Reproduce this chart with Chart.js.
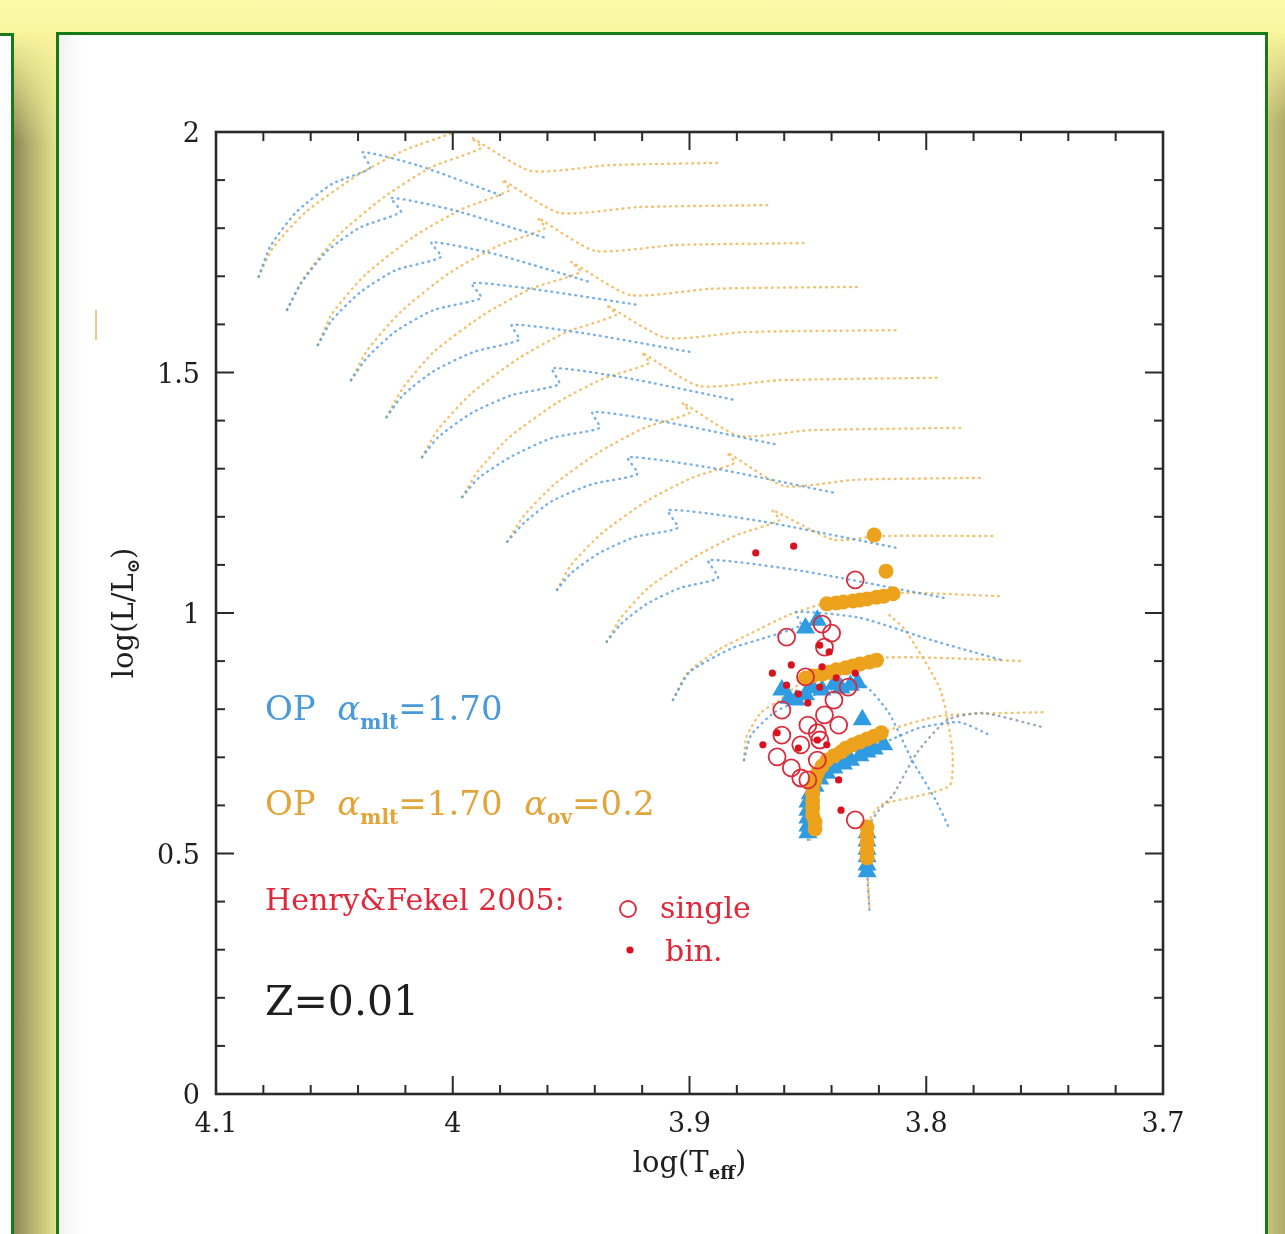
<!DOCTYPE html>
<html>
<head>
<meta charset="utf-8">
<title>HR diagram Z=0.01</title>
<script src="https://cdn.jsdelivr.net/npm/chart.js@4.4.0/dist/chart.umd.min.js"></script>
<style>
  html, body { margin: 0; padding: 0; }
  body {
    width: 1285px; height: 1234px; position: relative; overflow: hidden;
    background: linear-gradient(to bottom, #fbfaa8 0px, #f8f59c 40px, #f1ee94 100%);
  }
  #leftShadow {
    position: absolute; left: 14px; top: 33px; width: 43px; height: 1201px;
    background: linear-gradient(to right, #8a8757 0%, #b4b16e 40%, #e6e390 100%);
  }
  #leftFade {
    position: absolute; left: 14px; top: 33px; width: 43px; height: 110px;
    background: linear-gradient(to bottom, #f8f59c 0%, rgba(248,245,156,0) 100%);
  }
  #rightShadow {
    position: absolute; left: 1265px; top: 33px; width: 20px; height: 1201px;
    background: linear-gradient(to right, #c9c67e 0%, #aeab68 100%);
  }
  #rightFade {
    position: absolute; left: 1265px; top: 33px; width: 20px; height: 90px;
    background: linear-gradient(to bottom, #f8f59c 0%, rgba(248,245,156,0) 100%);
  }
  #leftPanel {
    position: absolute; left: -10px; top: 33px; width: 21px; height: 1220px;
    background: #fff; border-top: 3px solid #177a17; border-right: 3px solid #177a17;
  }
  #mainPanel {
    position: absolute; left: 56px; top: 32px; width: 1206px; height: 1230px;
    background: #fff; border: 3px solid #177a17;
    box-shadow: inset 22px 0 22px -14px rgba(0,0,0,0.07);
  }
  #hrd { position: absolute; left: 0; top: 0; }
</style>
</head>
<body>
<div id="leftShadow"></div>
<div id="leftFade"></div>
<div id="rightShadow"></div>
<div id="rightFade"></div>
<div id="leftPanel"></div>
<div id="mainPanel"></div>
<canvas id="hrd" width="1285" height="1234"></canvas>
<script>
// axis ticks
const xMajorTicks = [4.1, 4.0, 3.9, 3.8, 3.7];
const xTickLabels = ['4.1', '4', '3.9', '3.8', '3.7'];
const xMinorTicks = [4.08, 4.06, 4.04, 4.02, 3.98, 3.96, 3.94, 3.92, 3.88, 3.86, 3.84, 3.82, 3.78, 3.76, 3.74, 3.72];
const yMajorTicks = [0, 0.5, 1, 1.5, 2];
const yTickLabels = ['0', '0.5', '1', '1.5', '2'];
const yMinorTicks = [0.1, 0.2, 0.3, 0.4, 0.6, 0.7, 0.8, 0.9, 1.1, 1.2, 1.3, 1.4, 1.6, 1.7, 1.8, 1.9];

// tracks with overshoot (alpha_ov = 0.2), [logTeff, logL]
const ovTrack1 = [[4.082,1.699],[4.076,1.759],[4.062,1.834],[4.040,1.911],[4.020,1.963],[3.999,2.000],[3.980,2.042]];
const ovTrack2 = [[4.070,1.630],[4.063,1.696],[4.049,1.782],[4.029,1.865],[4.009,1.927],[3.988,1.967],[3.992,1.988],[3.967,1.919],[3.934,1.931],[3.887,1.936]];
const ovTrack3 = [[4.057,1.557],[4.051,1.622],[4.037,1.703],[4.016,1.784],[3.996,1.840],[3.976,1.879],[3.979,1.900],[3.955,1.832],[3.921,1.844],[3.866,1.848]];
const ovTrack4 = [[4.043,1.484],[4.036,1.547],[4.022,1.626],[4.002,1.705],[3.981,1.763],[3.961,1.800],[3.964,1.821],[3.940,1.753],[3.906,1.765],[3.851,1.769]];
const ovTrack5 = [[4.028,1.407],[4.021,1.468],[4.008,1.543],[3.987,1.620],[3.967,1.674],[3.946,1.709],[3.950,1.730],[3.925,1.661],[3.891,1.674],[3.829,1.678]];
const ovTrack6 = [[4.013,1.324],[4.006,1.383],[3.992,1.457],[3.972,1.530],[3.952,1.584],[3.931,1.620],[3.935,1.640],[3.910,1.572],[3.877,1.584],[3.813,1.588]];
const ovTrack7 = [[3.996,1.241],[3.989,1.297],[3.976,1.366],[3.956,1.437],[3.937,1.486],[3.917,1.520],[3.920,1.541],[3.896,1.472],[3.862,1.484],[3.795,1.489]];
const ovTrack8 = [[3.977,1.148],[3.970,1.202],[3.957,1.268],[3.938,1.335],[3.919,1.385],[3.900,1.416],[3.903,1.437],[3.879,1.368],[3.849,1.380],[3.785,1.385]];
const ovTrack9 = [[3.956,1.048],[3.950,1.100],[3.937,1.166],[3.918,1.233],[3.899,1.281],[3.881,1.312],[3.884,1.333],[3.860,1.264],[3.830,1.277],[3.777,1.281]];
const ovTrack10 = [[3.935,0.940],[3.929,0.990],[3.917,1.054],[3.898,1.116],[3.880,1.162],[3.862,1.193],[3.865,1.214],[3.839,1.152],[3.820,1.160],[3.770,1.160]];
const ovTrack11 = [[3.907,0.819],[3.901,0.875],[3.888,0.923],[3.874,0.958],[3.858,0.996],[3.842,1.021],[3.814,1.042],[3.769,1.035]];
const ovTrack12 = [[3.877,0.694],[3.876,0.742],[3.870,0.792],[3.862,0.819],[3.851,0.861],[3.820,0.906],[3.790,0.906],[3.760,0.900]];
const ovTrack13 = [[3.849,0.528],[3.848,0.611],[3.846,0.663],[3.836,0.709],[3.819,0.751],[3.794,0.786],[3.750,0.794]];
const ovTrack14 = [[3.824,0.389],[3.825,0.487],[3.825,0.559],[3.819,0.601],[3.803,0.620],[3.790,0.642],[3.789,0.715],[3.794,0.840],[3.809,0.965],[3.817,1.002]];

// tracks without overshoot (alpha_mlt = 1.70)
const mltTrack1 = [[4.082,1.699],[4.077,1.763],[4.066,1.834],[4.051,1.892],[4.035,1.925],[4.038,1.958],[4.015,1.931],[3.980,1.869]];
const mltTrack2 = [[4.070,1.630],[4.064,1.686],[4.053,1.753],[4.039,1.802],[4.022,1.834],[4.026,1.863],[4.000,1.838],[3.961,1.780]];
const mltTrack3 = [[4.057,1.557],[4.051,1.609],[4.039,1.667],[4.024,1.713],[4.005,1.740],[4.009,1.771],[3.982,1.746],[3.942,1.688]];
const mltTrack4 = [[4.043,1.484],[4.036,1.532],[4.024,1.586],[4.008,1.630],[3.988,1.655],[3.992,1.686],[3.964,1.672],[3.921,1.640]];
const mltTrack5 = [[4.028,1.407],[4.021,1.453],[4.008,1.503],[3.991,1.543],[3.972,1.568],[3.975,1.599],[3.945,1.582],[3.900,1.543]];
const mltTrack6 = [[4.013,1.324],[4.006,1.366],[3.992,1.416],[3.975,1.453],[3.955,1.476],[3.958,1.509],[3.927,1.489],[3.881,1.443]];
const mltTrack7 = [[3.996,1.241],[3.989,1.281],[3.975,1.326],[3.958,1.364],[3.938,1.385],[3.941,1.418],[3.910,1.397],[3.862,1.349]];
const mltTrack8 = [[3.977,1.148],[3.970,1.187],[3.958,1.233],[3.941,1.268],[3.922,1.289],[3.926,1.324],[3.890,1.301],[3.838,1.249]];
const mltTrack9 = [[3.956,1.048],[3.950,1.083],[3.938,1.125],[3.923,1.158],[3.905,1.177],[3.909,1.214],[3.870,1.191],[3.812,1.135]];
const mltTrack10 = [[3.935,0.940],[3.929,0.977],[3.918,1.019],[3.904,1.052],[3.888,1.073],[3.892,1.110],[3.852,1.087],[3.792,1.031]];
const mltTrack11 = [[3.907,0.819],[3.900,0.877],[3.882,0.927],[3.867,0.950],[3.853,0.975],[3.855,1.002],[3.828,0.990],[3.798,0.944],[3.768,0.902]];
const mltTrack12 = [[3.877,0.694],[3.874,0.746],[3.864,0.794],[3.853,0.819],[3.841,0.840],[3.827,0.852],[3.816,0.794],[3.806,0.694],[3.796,0.611],[3.790,0.549]];
const mltTrack13 = [[3.850,0.528],[3.849,0.611],[3.847,0.642],[3.836,0.688],[3.827,0.711],[3.817,0.732],[3.803,0.761],[3.786,0.773],[3.773,0.746]];
const mltTrack14 = [[3.824,0.383],[3.825,0.466],[3.825,0.549],[3.820,0.590],[3.814,0.622],[3.804,0.709],[3.791,0.778],[3.776,0.792],[3.751,0.763]];

// model points picked on the tracks
const ovModelPts = [
  [3.822,1.162],[3.817,1.087],
  [3.842,1.019],[3.838,1.021],[3.835,1.023],[3.831,1.025],[3.828,1.027],[3.825,1.029],[3.821,1.033],[3.818,1.035],[3.814,1.040],
  [3.851,0.865],[3.848,0.869],[3.844,0.873],[3.841,0.877],[3.838,0.882],[3.834,0.886],[3.831,0.890],[3.828,0.894],[3.824,0.898],[3.821,0.902],
  [3.819,0.751],[3.822,0.744],[3.825,0.738],[3.828,0.732],[3.831,0.726],[3.834,0.719],[3.836,0.711],[3.839,0.703],[3.842,0.694],[3.844,0.682],
  [3.846,0.667],[3.847,0.653],[3.848,0.638],[3.848,0.624],[3.848,0.609],[3.848,0.595],[3.848,0.580],[3.847,0.566],[3.847,0.551],
  [3.825,0.555],[3.825,0.538],[3.825,0.522],[3.825,0.505],[3.825,0.491]
];
const mltModelPts = [
  [3.851,0.969],[3.846,0.985],
  [3.861,0.840],[3.858,0.823],[3.855,0.819],[3.851,0.830],[3.848,0.844],[3.844,0.840],[3.839,0.852],[3.836,0.844],[3.832,0.850],[3.829,0.855],
  [3.827,0.778],[3.818,0.726],[3.822,0.717],[3.825,0.711],[3.828,0.703],[3.832,0.694],[3.835,0.686],[3.839,0.678],[3.842,0.667],
  [3.845,0.655],[3.847,0.640],[3.849,0.624],[3.850,0.607],[3.850,0.590],[3.850,0.574],[3.850,0.557],[3.850,0.543],
  [3.825,0.543],[3.825,0.526],[3.825,0.509],[3.825,0.493],[3.825,0.476],[3.825,0.462]
];

// Henry & Fekel 2005 stars
const singleStars = [
  [3.830,1.069],[3.859,0.950],[3.844,0.977],[3.840,0.958],[3.843,0.929],[3.851,0.867],[3.833,0.846],[3.839,0.819],
  [3.861,0.798],[3.843,0.788],[3.837,0.767],[3.850,0.767],[3.846,0.751],[3.861,0.746],[3.853,0.726],[3.845,0.736],
  [3.863,0.701],[3.846,0.694],[3.857,0.678],[3.853,0.657],[3.850,0.653],[3.830,0.570]
];
const binaryStars = [
  [3.872,1.125],[3.856,1.139],[3.865,0.875],[3.857,0.892],[3.844,0.888],[3.838,0.865],[3.830,0.875],[3.859,0.850],
  [3.845,0.846],[3.854,0.832],[3.850,0.813],[3.845,0.933],[3.841,0.919],[3.869,0.726],[3.854,0.719],[3.863,0.751],
  [3.842,0.726],[3.837,0.653],[3.836,0.590],[3.846,0.736]
];

const ORANGE_TRACK = 'rgba(238,178,72,0.8)';
const BLUE_TRACK = 'rgba(84,156,222,0.8)';
const GREY_TRACK = 'rgba(130,145,170,0.8)';

const toXY = pts => pts.map(([t, l]) => ({ x: t, y: l }));

function trackSet(pts, color) {
  return {
    data: toXY(pts),
    showLine: true,
    borderColor: color,
    borderWidth: 2.4,
    borderDash: [0.8, 5.2],
    borderCapStyle: 'round',
    pointRadius: 0,
    tension: 0.2,
    order: 10
  };
}

const ovTracks = [ovTrack1, ovTrack2, ovTrack3, ovTrack4, ovTrack5, ovTrack6, ovTrack7,
  ovTrack8, ovTrack9, ovTrack10, ovTrack11, ovTrack12, ovTrack13, ovTrack14];
const mltTracks = [mltTrack1, mltTrack2, mltTrack3, mltTrack4, mltTrack5, mltTrack6, mltTrack7,
  mltTrack8, mltTrack9, mltTrack10, mltTrack11, mltTrack12, mltTrack13];

const datasets = [];
mltTracks.forEach(t => datasets.push(trackSet(t, BLUE_TRACK)));
datasets.push(trackSet(mltTrack14, GREY_TRACK));
ovTracks.forEach(t => datasets.push(trackSet(t, ORANGE_TRACK)));

datasets.push({
  data: toXY(mltModelPts), pointStyle: 'triangle', pointRadius: 11,
  backgroundColor: '#2e9be2', borderWidth: 0, order: 4
});
datasets.push({
  data: toXY(ovModelPts), pointStyle: 'circle', pointRadius: 7.5,
  backgroundColor: '#eca21c', borderWidth: 0, order: 3
});
datasets.push({
  data: toXY(singleStars), pointStyle: 'circle', pointRadius: 8.5,
  backgroundColor: 'rgba(0,0,0,0)', borderColor: '#d92b3c', borderWidth: 1.8, order: 2
});
datasets.push({
  data: toXY(binaryStars), pointStyle: 'circle', pointRadius: 3.6,
  backgroundColor: '#d8121f', borderWidth: 0, order: 1
});

function drawRich(ctx, parts, x, y) {
  let cx = x;
  parts.forEach(p => {
    ctx.font = p.font;
    ctx.fillStyle = p.color;
    ctx.fillText(p.text, cx, y + (p.dy || 0));
    cx += ctx.measureText(p.text).width;
  });
  return cx;
}

function richWidth(ctx, parts) {
  return parts.reduce((w, p) => { ctx.font = p.font; return w + ctx.measureText(p.text).width; }, 0);
}

const SERIF = '"DejaVu Serif", serif';

const framePlugin = {
  id: 'frame',
  afterDatasetsDraw(chart) {
    const { ctx, chartArea: { left, right, top, bottom }, scales: { x, y } } = chart;
    ctx.save();

    // frame
    ctx.strokeStyle = '#2a2a2a';
    ctx.lineWidth = 2.6;
    ctx.strokeRect(left, top, right - left, bottom - top);

    // inward ticks on all sides
    ctx.lineWidth = 2;
    const tick = (x1, y1, x2, y2) => { ctx.beginPath(); ctx.moveTo(x1, y1); ctx.lineTo(x2, y2); ctx.stroke(); };
    xMajorTicks.forEach(v => { const p = x.getPixelForValue(v); tick(p, bottom, p, bottom - 18); tick(p, top, p, top + 18); });
    xMinorTicks.forEach(v => { const p = x.getPixelForValue(v); tick(p, bottom, p, bottom - 9); tick(p, top, p, top + 9); });
    yMajorTicks.forEach(v => { const p = y.getPixelForValue(v); tick(left, p, left + 18, p); tick(right, p, right - 18, p); });
    yMinorTicks.forEach(v => { const p = y.getPixelForValue(v); tick(left, p, left + 9, p); tick(right, p, right - 9, p); });

    // tick labels
    ctx.fillStyle = '#1e1e1e';
    ctx.font = '27px ' + SERIF;
    ctx.textAlign = 'center';
    ctx.textBaseline = 'alphabetic';
    xMajorTicks.forEach((v, i) => ctx.fillText(xTickLabels[i], x.getPixelForValue(v), bottom + 38));
    ctx.textAlign = 'right';
    yMajorTicks.forEach((v, i) => ctx.fillText(yTickLabels[i], left - 16, y.getPixelForValue(v) + 10));
    ctx.textAlign = 'left';

    // x title
    const xt = [
      { text: 'log(T', font: '29px ' + SERIF, color: '#1e1e1e' },
      { text: 'eff', font: 'bold 18px ' + SERIF, color: '#1e1e1e', dy: 7 },
      { text: ')', font: '29px ' + SERIF, color: '#1e1e1e' }
    ];
    drawRich(ctx, xt, (left + right) / 2 - richWidth(ctx, xt) / 2, bottom + 78);

    // y title (rotated)
    const yt = [
      { text: 'log(L/L', font: '29px ' + SERIF, color: '#1e1e1e' },
      { text: '\u2299', font: 'bold 17px ' + SERIF, color: '#1e1e1e', dy: 6 },
      { text: ')', font: '29px ' + SERIF, color: '#1e1e1e' }
    ];
    ctx.save();
    ctx.translate(133, (top + bottom) / 2);
    ctx.rotate(-Math.PI / 2);
    drawRich(ctx, yt, -richWidth(ctx, yt) / 2, 0);
    ctx.restore();

    // legend texts
    const BLUE = '#4a9ad9', ORANGE = '#e2a53a', RED = '#e0283a';
    const big = '34px ' + SERIF, alpha = 'italic 34px ' + SERIF, sub = 'bold 20px ' + SERIF;
    drawRich(ctx, [
      { text: 'OP  ', font: big, color: BLUE },
      { text: '\u03b1', font: alpha, color: BLUE },
      { text: 'mlt', font: sub, color: BLUE, dy: 9 },
      { text: '=1.70', font: big, color: BLUE }
    ], 265, 720);
    drawRich(ctx, [
      { text: 'OP  ', font: big, color: ORANGE },
      { text: '\u03b1', font: alpha, color: ORANGE },
      { text: 'mlt', font: sub, color: ORANGE, dy: 9 },
      { text: '=1.70  ', font: big, color: ORANGE },
      { text: '\u03b1', font: alpha, color: ORANGE },
      { text: 'ov', font: sub, color: ORANGE, dy: 9 },
      { text: '=0.2', font: big, color: ORANGE }
    ], 265, 815);

    ctx.fillStyle = RED;
    ctx.font = '30px ' + SERIF;
    ctx.fillText('Henry&Fekel 2005:', 265, 910);
    ctx.fillText('single', 660, 918);
    ctx.fillText('bin.', 665, 961);
    ctx.strokeStyle = '#d92b3c';
    ctx.lineWidth = 1.8;
    ctx.beginPath(); ctx.arc(628, 909, 8, 0, Math.PI * 2); ctx.stroke();
    ctx.fillStyle = '#d8121f';
    ctx.beginPath(); ctx.arc(630, 950, 3.6, 0, Math.PI * 2); ctx.fill();

    ctx.fillStyle = '#1e1e1e';
    ctx.font = '41px ' + SERIF;
    ctx.fillText('Z=0.01', 265, 1015);

    // stray mark left of the axis
    ctx.strokeStyle = 'rgba(236,178,80,0.7)';
    ctx.lineWidth = 2;
    tick(96, 310, 96, 340);

    ctx.restore();
  }
};

const ctx = document.getElementById('hrd').getContext('2d');
new Chart(ctx, {
  type: 'scatter',
  data: { datasets },
  options: {
    responsive: false,
    animation: false,
    layout: { padding: { left: 216, right: 122, top: 132, bottom: 140 } },
    scales: {
      x: { type: 'linear', min: 3.7, max: 4.1, reverse: true, display: false },
      y: { type: 'linear', min: 0, max: 2, display: false }
    },
    plugins: { legend: { display: false }, tooltip: { enabled: false } }
  },
  plugins: [framePlugin]
});
</script>
</body>
</html>
